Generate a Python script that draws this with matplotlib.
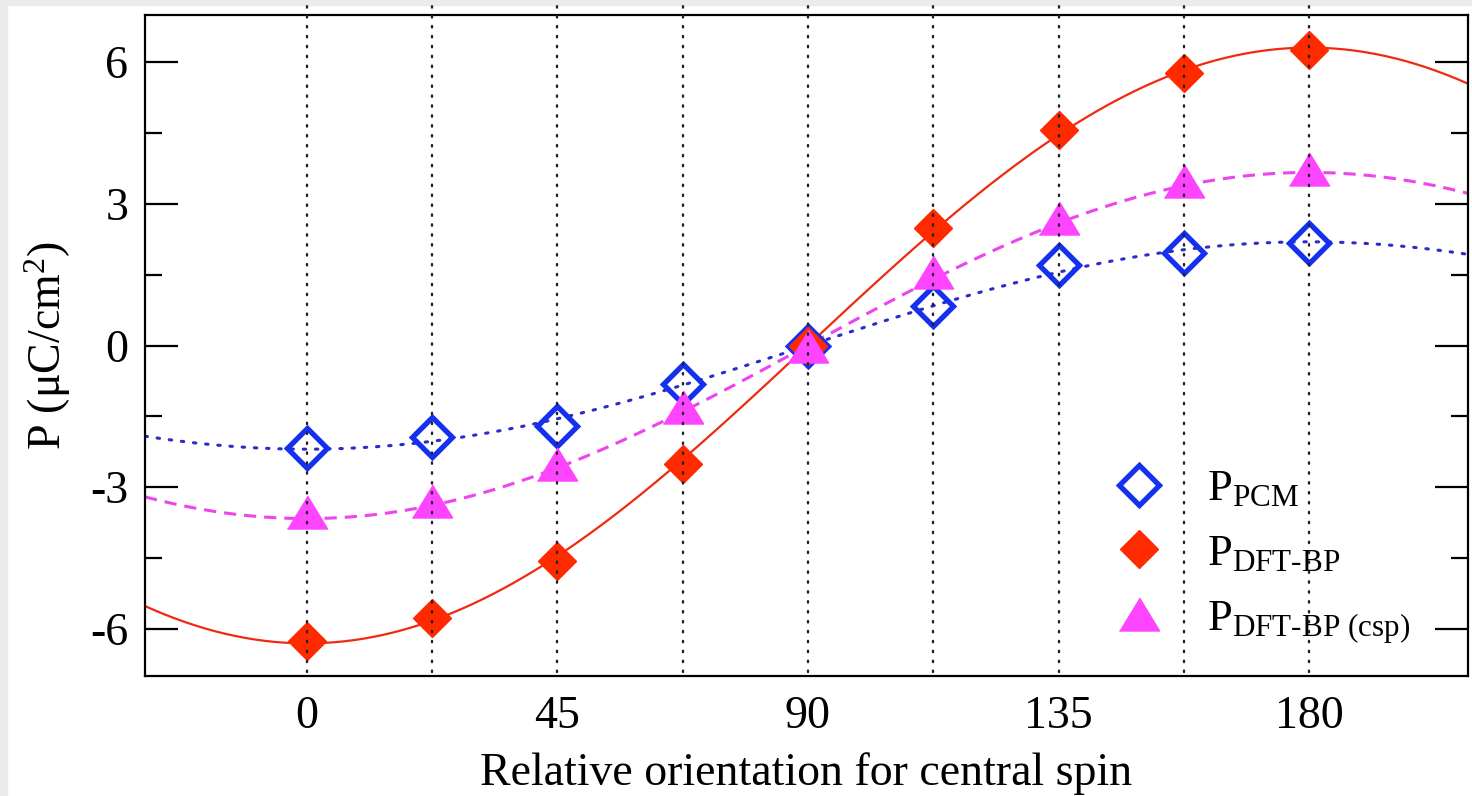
import numpy as np
import matplotlib.pyplot as plt
from matplotlib.lines import Line2D
from matplotlib.patches import Rectangle

plt.rcParams['font.family'] = 'Liberation Serif'
plt.rcParams['mathtext.fontset'] = 'custom'
plt.rcParams['mathtext.rm'] = 'Liberation Serif'
plt.rcParams['mathtext.it'] = 'Liberation Serif:italic'
plt.rcParams['axes.unicode_minus'] = False

# data
angles = [0, 22.5, 45, 67.5, 90, 112.5, 135, 157.5, 180]
p_pcm = [-2.18, -1.93, -1.70, -0.81, 0.0, 0.84, 1.70, 1.95, 2.18]
p_dft = [-6.25, -5.77, -4.56, -2.51, 0.0, 2.48, 4.57, 5.78, 6.26]
p_csp = [-3.53, -3.29, -2.52, -1.30, 0.0, 1.56, 2.71, 3.49, 3.74]
xticks = [0, 45, 90, 135, 180]
yticks = [-6, -3, 0, 3, 6]
labels = [r'$\mathrm{P}_{\mathrm{PCM}}$', r'$\mathrm{P}_{\text{DFT-BP}}$',
          r'$\mathrm{P}_{\text{DFT-BP (csp)}}$']

XLIM = (-29, 208.5)


def cos_fit(y):
    # least squares amplitude for y = -a*cos(theta)
    c = -np.cos(np.radians(angles))
    return np.dot(c, y) / np.dot(c, c)


fig = plt.figure(figsize=(14.72, 7.96), dpi=100)
fig.patches.append(Rectangle((0, 0), 7 / 1472, 1, transform=fig.transFigure,
                             color='#ebebeb', zorder=-10))
fig.patches.append(Rectangle((0, 1 - 5 / 796), 1, 5 / 796, transform=fig.transFigure,
                             color='#ebebeb', zorder=-10))
ax = fig.add_axes([145 / 1472, 120 / 796, 1323 / 1472, 661 / 796])

xs = np.linspace(XLIM[0], XLIM[1], 400)
cx = -np.cos(np.radians(xs))
ax.plot(xs, cos_fit(p_pcm) * cx, color='#2b2bc8', lw=2.2, linestyle=(0, (0.8, 3.2)),
        dash_capstyle='round', zorder=2)
ax.plot(xs, cos_fit(p_csp) * cx, color='#ee44ee', lw=2.2, linestyle=(0, (4, 2.6)), zorder=2)
ax.plot(xs, cos_fit(p_dft) * cx, color='#f02a10', lw=1.6, zorder=2)

tri = [(-1, -0.82), (1, -0.82), (0, 0.82)]
ax.plot(angles, p_pcm, 'D', ms=20, mfc='none', mec='#1530ee', mew=3.8, zorder=3)
ax.plot(angles, p_dft, 'D', ms=19, mfc='#ff2a00', mec='#ff2a00', mew=1, zorder=4)
ax.plot(angles, p_csp, marker=tri, ls='none', ms=29, mfc='#ff44ff', mec='#ff44ff',
        mew=1, zorder=5)

for a in angles:
    ax.axvline(a, ymin=0.006, ymax=1.016, color='#222222', lw=1.7,
               linestyle=(0, (0.6, 3.6)), dash_capstyle='round', clip_on=False, zorder=6)

ax.set_xlim(*XLIM)
ax.set_ylim(-7, 7)
ax.set_xticks(xticks)
ax.set_yticks(yticks)
ax.set_yticks([-4.5, -1.5, 1.5, 4.5], minor=True)
ax.tick_params(axis='x', length=0, pad=14, labelsize=33)
ax.tick_params(axis='y', which='major', direction='in', length=24, width=1.6,
               left=True, right=True, pad=12, labelsize=33)
ax.tick_params(axis='y', which='minor', direction='in', length=12, width=1.6,
               left=True, right=True)
for s in ax.spines.values():
    s.set_linewidth(1.6)

ax.set_xlabel('Relative orientation for central spin', fontsize=33, labelpad=10)
ax.set_ylabel(r'P ($\mathrm{\mu}$C/cm$^{2}$)', fontsize=33, labelpad=12)

handles = [
    Line2D([0], [0], marker='D', ls='none', ms=20, mfc='none', mec='#1530ee', mew=3.8),
    Line2D([0], [0], marker='D', ls='none', ms=19, mfc='#ff2a00', mec='#ff2a00'),
    Line2D([0], [0], marker=tri, ls='none', ms=29, mfc='#ff44ff', mec='#ff44ff'),
]
ax.legend(handles, labels, loc='lower left', bbox_to_anchor=(0.7147, 0.014),
          frameon=False, fontsize=32, handlelength=1.2, handletextpad=0.92,
          labelspacing=0.55, borderpad=0)

fig.savefig('out.png', dpi=100)
